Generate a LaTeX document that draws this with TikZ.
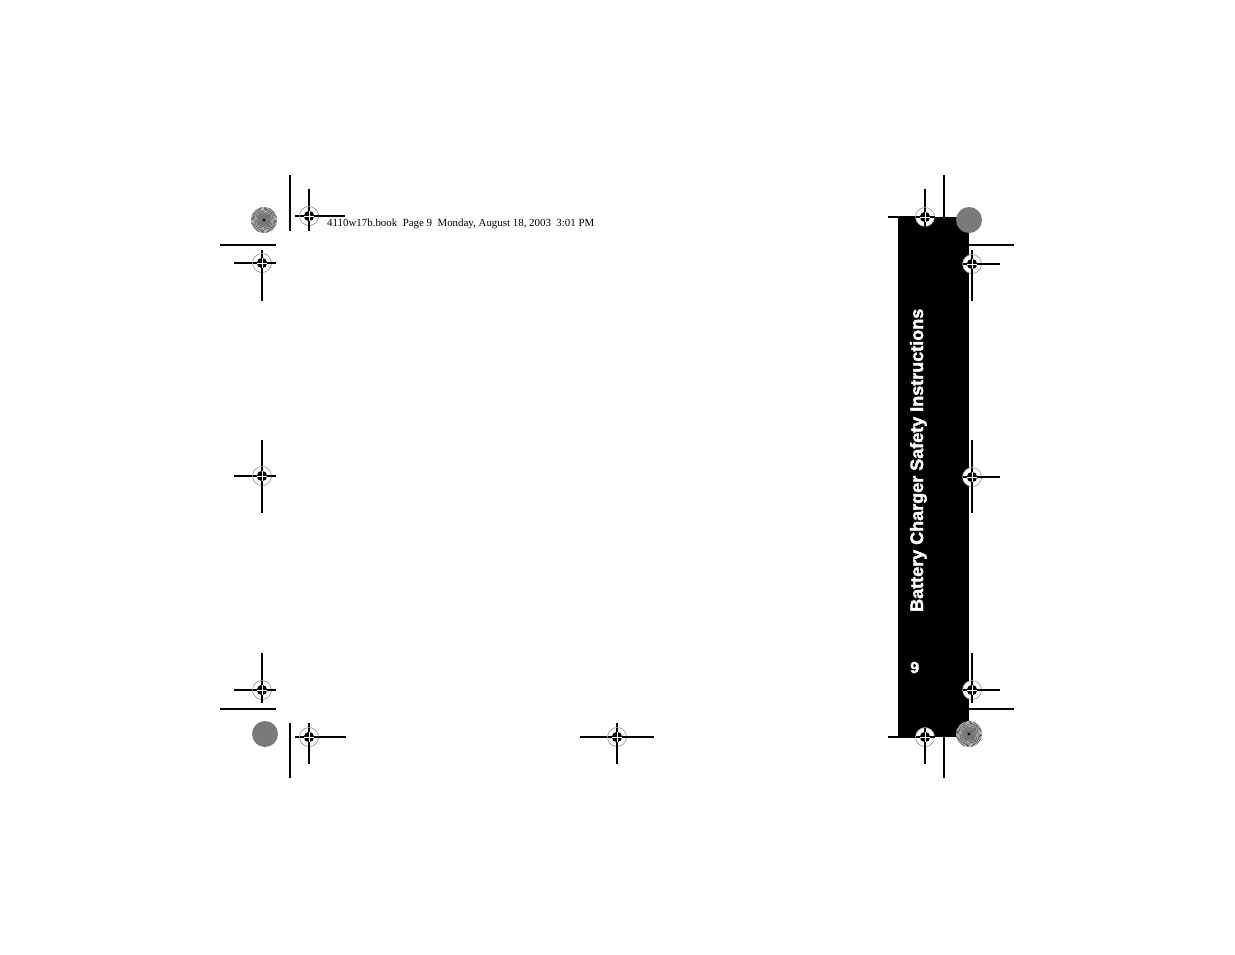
\documentclass[tikz,border=0pt]{standalone}
\usepackage{fontspec}
\setmainfont{Liberation Serif}
\newfontfamily\tabfont{Liberation Sans}[FakeBold=2]
\tikzset{
  cropline/.style={line width=1.2pt, black},
  ring/.style={line width=0.6pt, black!45}
}
\newcommand\regtarget[2]{%
  \fill[white] (#1,#2) circle (9.5);
  \draw[ring] (#1,#2) circle (9.5);
  \draw[cropline] (#1-9.5,#2) -- (#1+9.5,#2) (#1,#2-9.5) -- (#1,#2+9.5);
  \fill[black] (#1,#2) circle (5.2);
  \draw[white, line width=0.6pt] (#1-5.2,#2) -- (#1+5.2,#2) (#1,#2-5.2) -- (#1,#2+5.2);
}
\newcommand\starburst[2]{%
  \fill[white] (#1,#2) circle (13);
  \foreach \i in {0,...,59}{\fill[black!75] (#1,#2) -- +(\i*6:13) -- +(\i*6+3:13) -- cycle;}
  \fill[black!55, opacity=0.7] (#1,#2) circle (7);
  \fill[black] (#1,#2) circle (1.3);
}
\newcommand\graydisk[2]{%
  \fill[black!52] (#1,#2) circle (13);
}
\begin{document}
\begin{tikzpicture}[x=1pt,y=-1pt]
\useasboundingbox (0,0) rectangle (1235,954);
\fill[white] (0,0) rectangle (1235,954);
% black tab
\fill[black] (898,217) rectangle (969,737);
% top-left
\draw[cropline] (290,175) -- (290,231);
\draw[cropline] (295,216) -- (345,216) (309,189) -- (309,231);
\draw[cropline] (220,245) -- (276,245);
\draw[cropline] (234,263) -- (276,263) (262,250) -- (262,301);
% middle-left
\draw[cropline] (234,476) -- (276,476) (262,440) -- (262,513);
% bottom-left
\draw[cropline] (234,690) -- (276,690) (262,653) -- (262,703);
\draw[cropline] (220,709) -- (276,709);
\draw[cropline] (290,723) -- (290,778);
\draw[cropline] (295,737) -- (346,737) (309,723) -- (309,764);
% bottom-middle
\draw[cropline] (580,737) -- (654,737) (617,723) -- (617,764);
% top-right
\draw[cropline] (944,175) -- (944,217);
\draw[cropline] (888,217) -- (925,217) (925,189) -- (925,217);
\draw[cropline] (969,245) -- (1014,245);
\draw[cropline] (963,264) -- (1000,264) (972,250) -- (972,301);
% middle-right
\draw[cropline] (963,477) -- (1000,477) (972,440) -- (972,513);
% bottom-right
\draw[cropline] (963,690) -- (1000,690) (972,653) -- (972,703);
\draw[cropline] (969,709) -- (1014,709);
\draw[cropline] (944,737) -- (944,778);
\draw[cropline] (888,737) -- (925,737) (925,737) -- (925,764);
% targets
\regtarget{309}{216}
\regtarget{262}{263}
\regtarget{262}{476}
\regtarget{262}{690}
\regtarget{309}{737}
\regtarget{617}{737}
\regtarget{925}{217}
\regtarget{972}{264}
\regtarget{972}{477}
\regtarget{972}{690}
\regtarget{925}{737}
% color bars / starbursts
\starburst{264}{220}
\graydisk{969}{220}
\graydisk{265}{734}
\starburst{969}{734}
% texts
\node[anchor=base west, inner sep=0, font=\fontsize{10.9}{12}\selectfont] (hdr) at (327,226.5)
  {4110w17b.book~ Page 9~ Monday, August 18, 2003~ 3:01 PM};
\node[anchor=base west, inner sep=0, rotate=90, text=white,
  font=\tabfont\bfseries\fontsize{18}{20}\selectfont] (tabtitle) at (923,612)
  {Battery Charger Safety Instructions};
\node[anchor=base west, inner sep=0, text=white,
  font=\tabfont\bfseries\fontsize{16}{18}\selectfont] (pagenum) at (910,673) {9};
\end{tikzpicture}
\end{document}
